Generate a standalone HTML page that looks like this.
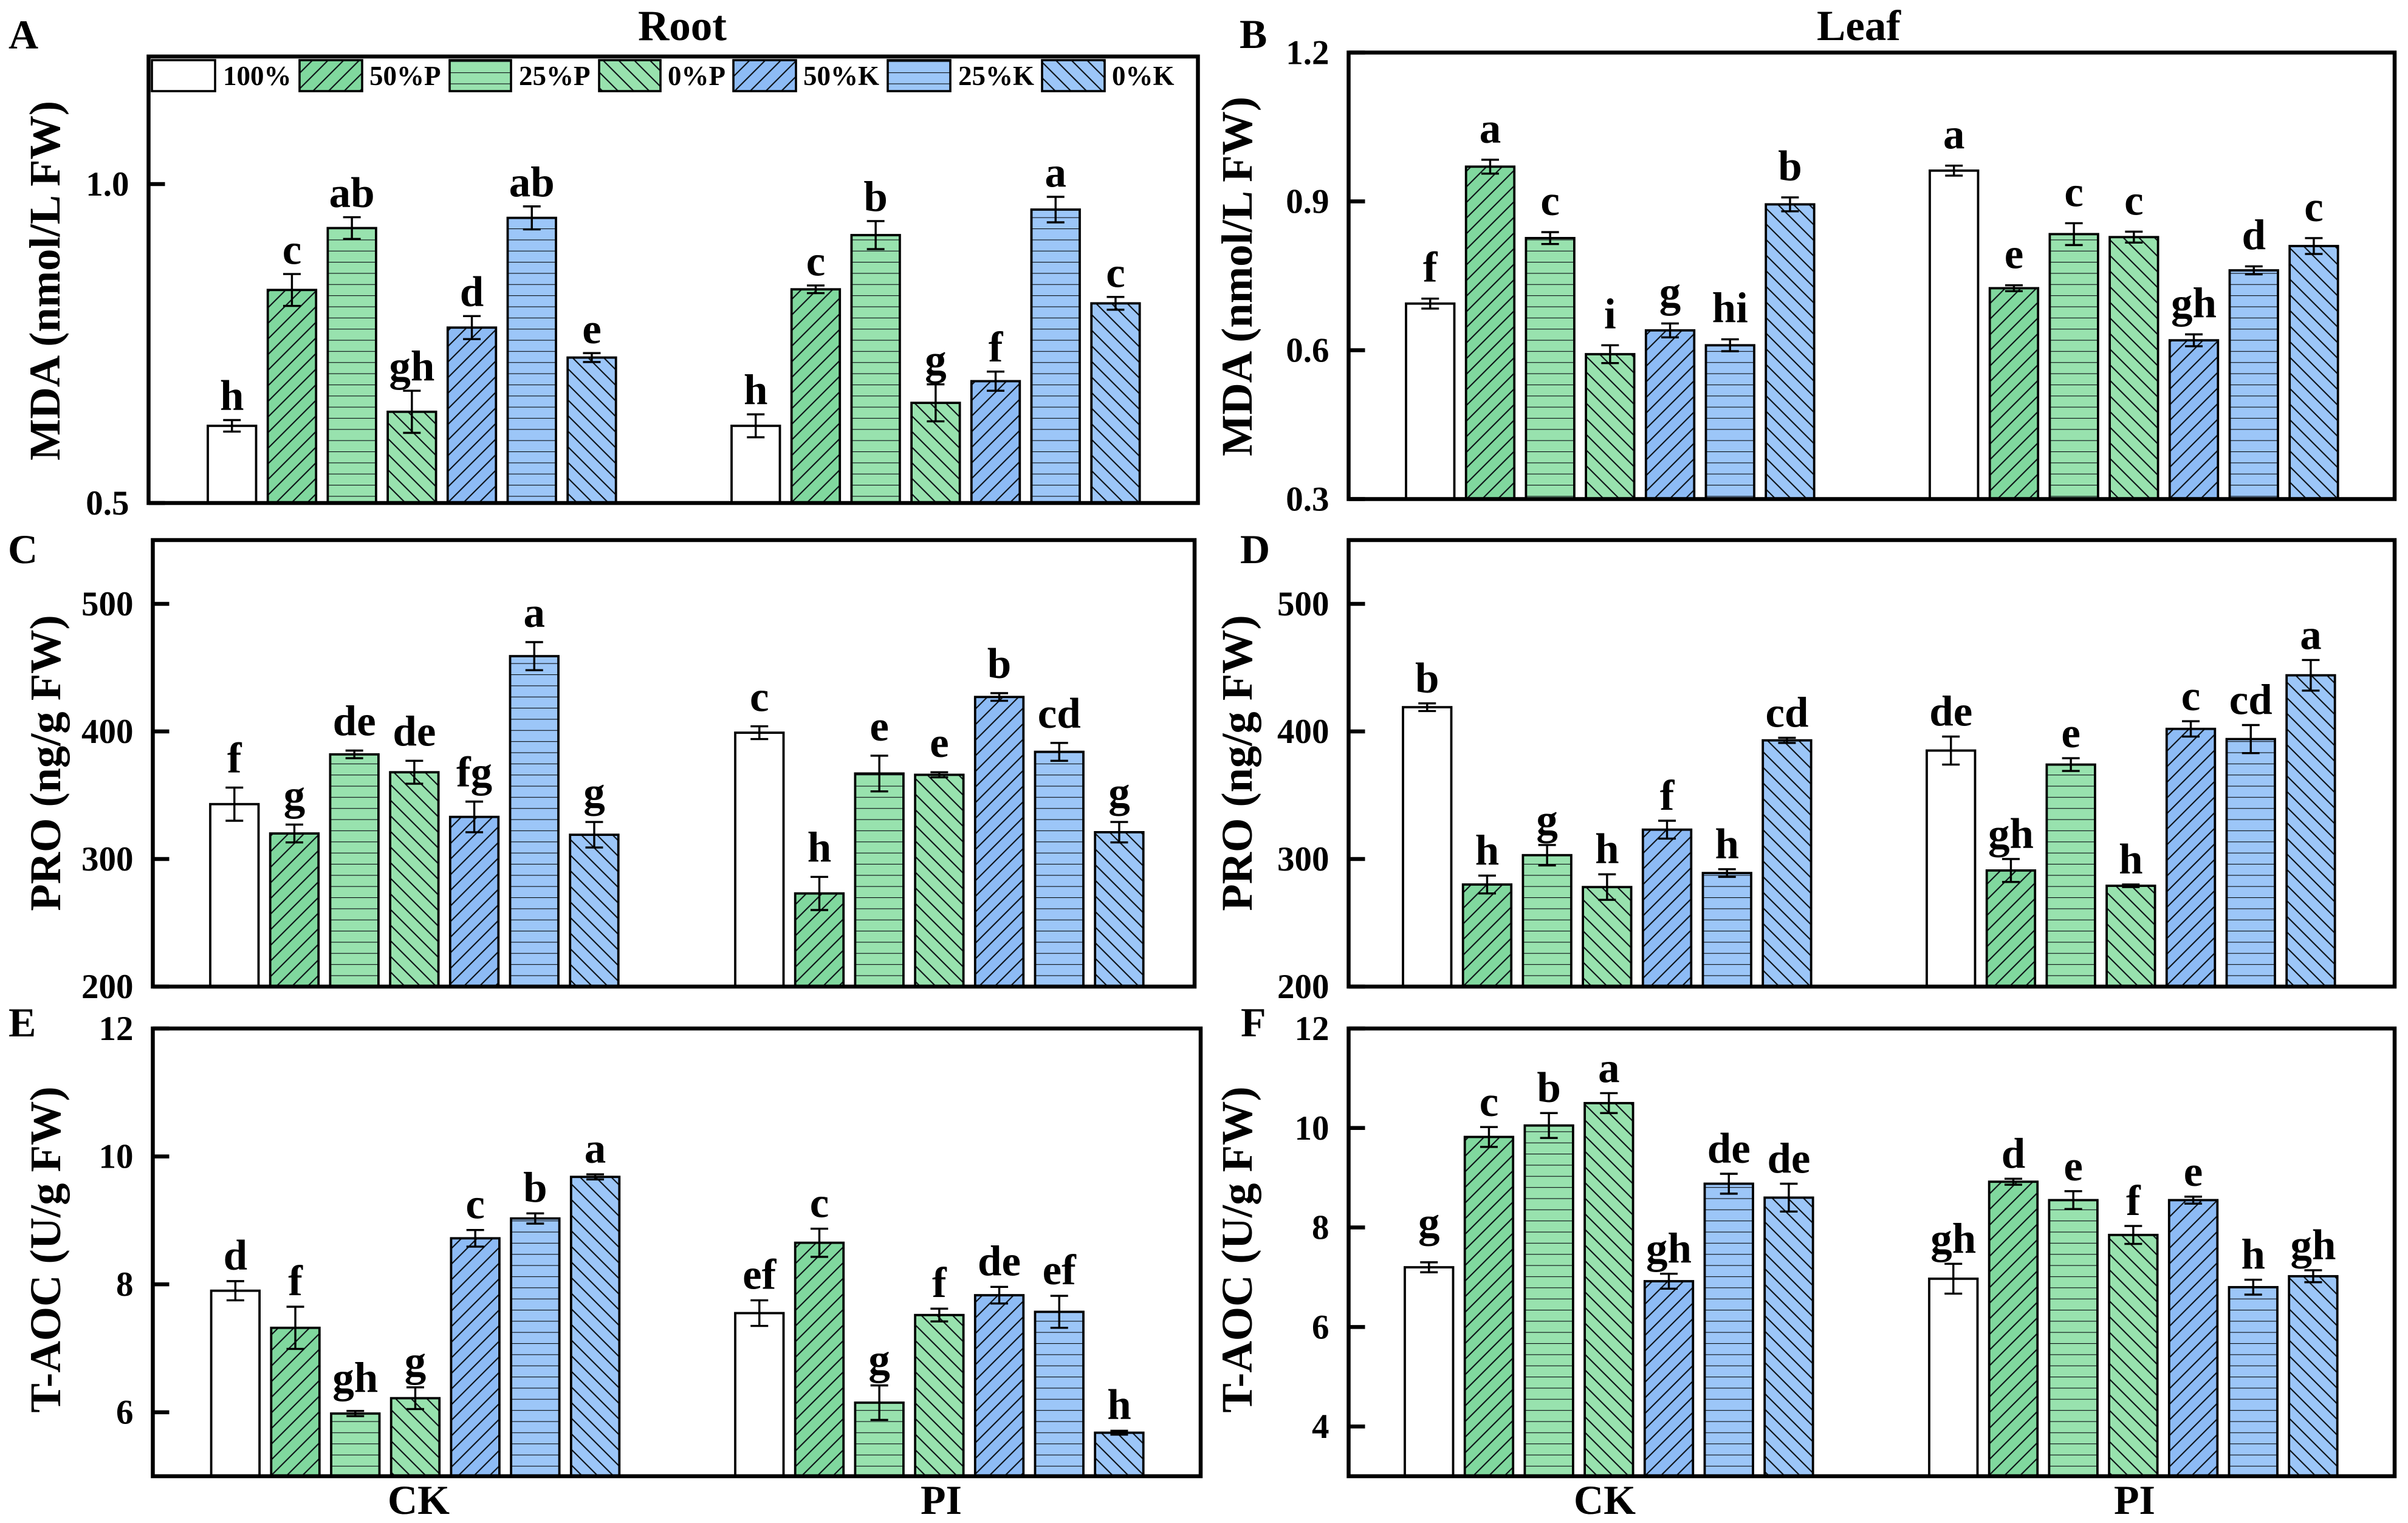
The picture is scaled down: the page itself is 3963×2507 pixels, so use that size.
<!DOCTYPE html>
<html lang="en">
<head>
<meta charset="utf-8">
<title>Root and leaf MDA, PRO and T-AOC</title>
<style>
html,body{margin:0;padding:0;background:#fff;}
svg{display:block;}
text{font-family:"Liberation Serif",serif;font-weight:bold;fill:#000;}
</style>
</head>
<body>
<svg id="chart" xmlns="http://www.w3.org/2000/svg" width="3963" height="2507" viewBox="0 0 3963 2507">
<defs>
<pattern id="h-fwd" patternUnits="userSpaceOnUse" width="25.7" height="25.7" patternTransform="translate(22.4,0)"><path d="M-2 2L2 -2M0 25.7L25.7 0M23.7 27.7L27.7 23.7" stroke="#0a0f14" stroke-width="2.1" fill="none"/></pattern>
<pattern id="h-back" patternUnits="userSpaceOnUse" width="25.7" height="25.7" patternTransform="translate(19.3,0)"><path d="M-2 23.7L2 27.7M0 0L25.7 25.7M23.7 -2L27.7 2" stroke="#0a0f14" stroke-width="2.1" fill="none"/></pattern>
<pattern id="h-horz" patternUnits="userSpaceOnUse" width="18.35" height="18.35" patternTransform="translate(0,9)"><path d="M-1 0H20" stroke="#0a0f14" stroke-width="2.3" fill="none"/></pattern>
</defs>
<rect x="0" y="0" width="3963" height="2507" fill="#fff"/>

<text x="1050" y="66" font-size="71">Root</text>
<text x="2990" y="66" font-size="71">Leaf</text>

<text x="14" y="80" font-size="68">A</text>
<text x="2040" y="79" font-size="68">B</text>
<text x="13" y="927" font-size="68">C</text>
<text x="2041" y="927" font-size="68">D</text>
<text x="14" y="1706" font-size="68">E</text>
<text x="2042" y="1706" font-size="68">F</text>

<text transform="translate(98,462) rotate(-90)" text-anchor="middle" font-size="72.5">MDA (nmol/L FW)</text>
<text transform="translate(2060,455) rotate(-90)" text-anchor="middle" font-size="72.5">MDA (nmol/L FW)</text>
<text transform="translate(99,1256) rotate(-90)" text-anchor="middle" font-size="72.5">PRO (ng/g FW)</text>
<text transform="translate(2060,1256) rotate(-90)" text-anchor="middle" font-size="72.5">PRO (ng/g FW)</text>
<text transform="translate(99,2057) rotate(-90)" text-anchor="middle" font-size="72.5">T-AOC (U/g FW)</text>
<text transform="translate(2060,2057) rotate(-90)" text-anchor="middle" font-size="72.5">T-AOC (U/g FW)</text>

<g id="panels"></g>

<g id="legend">
<g><rect x="250" y="99" width="104" height="51" fill="#fff" stroke="#000" stroke-width="3.6"/><text x="367" y="140" font-size="45">100%</text></g>
<g><rect x="493" y="99" width="103" height="51" fill="#80d89e"/><rect x="493" y="99" width="103" height="51" fill="url(#h-fwd)" stroke="#000" stroke-width="3.6"/><text x="608" y="140" font-size="45">50%P</text></g>
<g><rect x="740" y="99" width="101" height="51" fill="#98e2ae"/><rect x="740" y="99" width="101" height="51" fill="url(#h-horz)" stroke="#000" stroke-width="3.6"/><text x="854" y="140" font-size="45">25%P</text></g>
<g><rect x="986" y="99" width="101" height="51" fill="#98e2ae"/><rect x="986" y="99" width="101" height="51" fill="url(#h-back)" stroke="#000" stroke-width="3.6"/><text x="1099" y="140" font-size="45">0%P</text></g>
<g><rect x="1207" y="99" width="103" height="51" fill="#8dbbf5"/><rect x="1207" y="99" width="103" height="51" fill="url(#h-fwd)" stroke="#000" stroke-width="3.6"/><text x="1322" y="140" font-size="45">50%K</text></g>
<g><rect x="1461" y="99" width="103" height="51" fill="#9cc6f8"/><rect x="1461" y="99" width="103" height="51" fill="url(#h-horz)" stroke="#000" stroke-width="3.6"/><text x="1577" y="140" font-size="45">25%K</text></g>
<g><rect x="1715" y="99" width="103" height="51" fill="#9cc6f8"/><rect x="1715" y="99" width="103" height="51" fill="url(#h-back)" stroke="#000" stroke-width="3.6"/><text x="1830" y="140" font-size="45">0%K</text></g>
</g>
</svg>

<script>
// Categories
const groups = ['CK', 'PI'];
const treatments = ['100', '50p', '25p', '0p', '50k', '25k', '0k'];

// Panel A: root MDA
const rootMdaCK = [0.621, 0.834, 0.931, 0.643, 0.775, 0.947, 0.728];
const rootMdaPI = [0.621, 0.835, 0.92, 0.657, 0.691, 0.96, 0.813];
const rootMdaErrCK = [0.009, 0.025, 0.017, 0.033, 0.018, 0.018, 0.007];
const rootMdaErrPI = [0.018, 0.006, 0.022, 0.029, 0.015, 0.02, 0.01];
const rootMdaLetCK = ['h', 'c', 'ab', 'gh', 'd', 'ab', 'e'];
const rootMdaLetPI = ['h', 'c', 'b', 'g', 'f', 'a', 'c'];
const rootMdaTicks = [0.5, 1.0];
const rootMdaTickLabels = ['0.5', '1.0'];

// Panel B: leaf MDA
const leafMdaCK = [0.694, 0.97, 0.826, 0.592, 0.64, 0.61, 0.894];
const leafMdaPI = [0.962, 0.725, 0.834, 0.828, 0.62, 0.761, 0.81];
const leafMdaErrCK = [0.01, 0.014, 0.012, 0.018, 0.014, 0.012, 0.014];
const leafMdaErrPI = [0.01, 0.006, 0.022, 0.011, 0.012, 0.008, 0.016];
const leafMdaLetCK = ['f', 'a', 'c', 'i', 'g', 'hi', 'b'];
const leafMdaLetPI = ['a', 'e', 'c', 'c', 'gh', 'd', 'c'];
const leafMdaTicks = [0.3, 0.6, 0.9, 1.2];
const leafMdaTickLabels = ['0.3', '0.6', '0.9', '1.2'];

// Panel C: root PRO
const rootProCK = [343, 320, 382, 368, 333, 459, 319];
const rootProPI = [399, 273, 367, 366, 427, 384, 321];
const rootProErrCK = [13, 7, 3, 9, 12, 11, 10];
const rootProErrPI = [5, 13, 14, 2, 3, 7, 8];
const rootProLetCK = ['f', 'g', 'de', 'de', 'fg', 'a', 'g'];
const rootProLetPI = ['c', 'h', 'e', 'e', 'b', 'cd', 'g'];
const rootProTicks = [200, 300, 400, 500];
const rootProTickLabels = ['200', '300', '400', '500'];

// Panel D: leaf PRO
const leafProCK = [419, 280, 303, 278, 323, 289, 393];
const leafProPI = [385, 291, 374, 279, 402, 394, 444];
const leafProErrCK = [3, 7, 8, 10, 7, 3, 2];
const leafProErrPI = [11, 9, 5, 1, 6, 11, 12];
const leafProLetCK = ['b', 'h', 'g', 'h', 'f', 'h', 'cd'];
const leafProLetPI = ['de', 'gh', 'e', 'h', 'c', 'cd', 'a'];
const leafProTicks = [200, 300, 400, 500];
const leafProTickLabels = ['200', '300', '400', '500'];

// Panel E: root T-AOC
const rootAocCK = [7.9, 7.32, 5.98, 6.22, 8.72, 9.03, 9.68];
const rootAocPI = [7.55, 8.65, 6.15, 7.52, 7.83, 7.57, 5.68];
const rootAocErrCK = [0.15, 0.33, 0.04, 0.17, 0.13, 0.08, 0.04];
const rootAocErrPI = [0.2, 0.22, 0.27, 0.1, 0.13, 0.25, 0.03];
const rootAocLetCK = ['d', 'f', 'gh', 'g', 'c', 'b', 'a'];
const rootAocLetPI = ['ef', 'c', 'g', 'f', 'de', 'ef', 'h'];
const rootAocTicks = [6, 8, 10, 12];
const rootAocTickLabels = ['6', '8', '10', '12'];

// Panel F: leaf T-AOC
const leafAocCK = [7.2, 9.82, 10.05, 10.5, 6.92, 8.88, 8.6];
const leafAocPI = [6.97, 8.92, 8.55, 7.85, 8.55, 6.8, 7.02];
const leafAocErrCK = [0.1, 0.2, 0.25, 0.2, 0.15, 0.2, 0.28];
const leafAocErrPI = [0.3, 0.06, 0.18, 0.18, 0.07, 0.15, 0.12];
const leafAocLetCK = ['g', 'c', 'b', 'a', 'gh', 'de', 'de'];
const leafAocLetPI = ['gh', 'd', 'e', 'f', 'e', 'h', 'gh'];
const leafAocTicks = [4, 6, 8, 10, 12];
const leafAocTickLabels = ['4', '6', '8', '10', '12'];

// Frame geometry and axis domains
const BAR_W = 79.5, PITCH = 98.7;
const panelDefs = [
  {id:'a', l:244.5, r:1971.5, t:93,   b:828,  min:0.5, max:1.2, x0:342,  x1:1204, gap:16.5, vals:[rootMdaCK, rootMdaPI], errs:[rootMdaErrCK, rootMdaErrPI], lets:[rootMdaLetCK, rootMdaLetPI], ticks:rootMdaTicks, tickLabels:rootMdaTickLabels, xlab:null},
  {id:'b', l:2219.5,r:3941,   t:86.5, b:821.5,min:0.3, max:1.2, x0:2314, x1:3176, gap:28,   vals:[leafMdaCK, leafMdaPI], errs:[leafMdaErrCK, leafMdaErrPI], lets:[leafMdaLetCK, leafMdaLetPI], ticks:leafMdaTicks, tickLabels:leafMdaTickLabels, xlab:null},
  {id:'c', l:251.5, r:1966,   t:889,  b:1624, min:200, max:550, x0:346,  x1:1210, gap:25,   vals:[rootProCK, rootProPI], errs:[rootProErrCK, rootProErrPI], lets:[rootProLetCK, rootProLetPI], ticks:rootProTicks, tickLabels:rootProTickLabels, xlab:null},
  {id:'d', l:2219.5,r:3941,   t:889,  b:1624, min:200, max:550, x0:2309, x1:3171, gap:18,   vals:[leafProCK, leafProPI], errs:[leafProErrCK, leafProErrPI], lets:[leafProLetCK, leafProLetPI], ticks:leafProTicks, tickLabels:leafProTickLabels, xlab:null},
  {id:'e', l:251.5, r:1976,   t:1693, b:2430, min:5,   max:12,  x0:347.6,x1:1210, gap:19,   vals:[rootAocCK, rootAocPI], errs:[rootAocErrCK, rootAocErrPI], lets:[rootAocLetCK, rootAocLetPI], ticks:rootAocTicks, tickLabels:rootAocTickLabels, xlab:[689, 1549]},
  {id:'f', l:2219.5,r:3941,   t:1693, b:2430, min:3,   max:12,  x0:2312, x1:3175, gap:18,   vals:[leafAocCK, leafAocPI], errs:[leafAocErrCK, leafAocErrPI], lets:[leafAocLetCK, leafAocLetPI], ticks:leafAocTicks, tickLabels:leafAocTickLabels, xlab:[2641, 3513]}
];
// Extra lift for individual letters that sit higher above their error bars
const labelLift = {'e-CK-25p': 12, 'f-CK-100': 24};
const styles = [
  {fill:'#ffffff', hatch:null},
  {fill:'#80d89e', hatch:'h-fwd'},
  {fill:'#98e2ae', hatch:'h-horz'},
  {fill:'#98e2ae', hatch:'h-back'},
  {fill:'#8dbbf5', hatch:'h-fwd'},
  {fill:'#9cc6f8', hatch:'h-horz'},
  {fill:'#9cc6f8', hatch:'h-back'}
];

const NS = 'http://www.w3.org/2000/svg';
function mk(tag, parent, attrs) {
  const el = document.createElementNS(NS, tag);
  for (const k in attrs) el.setAttribute(k, attrs[k]);
  parent.appendChild(el);
  return el;
}
function xScale(p, g, i) { return (g === 0 ? p.x0 : p.x1) + i * PITCH; }
function yScale(p, v) { return p.b - (v - p.min) / (p.max - p.min) * (p.b - p.t); }

const root = document.getElementById('panels');
panelDefs.forEach(function (p) {
  const g = mk('g', root, {});
  
  

  groups.forEach(function (grp, gi) {
    treatments.forEach(function (tr, i) {
      const v = p.vals[gi][i], e = p.errs[gi][i];
      const x = xScale(p, gi, i), y = yScale(p, v), h = p.b - y;
      const st = styles[i];
      const cx = x + BAR_W / 2;

      const bar = mk('rect', g, {x: x, y: y, width: BAR_W, height: h, fill: st.fill});
      
      

      if (st.hatch) {
        const hatch = mk('rect', g, {x: x, y: y, width: BAR_W, height: h, fill: 'url(#' + st.hatch + ')'});
        
        
      }
      const outline = mk('rect', g, {x: x, y: y, width: BAR_W, height: h, fill: 'none', stroke: '#000', 'stroke-width': 3.8});
      
      

      const yHi = yScale(p, v + e), yLo = yScale(p, v - e);
      const eb = mk('path', g, {d: 'M' + (cx - 14.5) + ' ' + yHi + 'H' + (cx + 14.5) + 'M' + cx + ' ' + yHi + 'V' + yLo + 'M' + (cx - 14.5) + ' ' + yLo + 'H' + (cx + 14.5), stroke: '#000', 'stroke-width': 3.4, fill: 'none'});
      
      

      const lift = labelLift[p.id + '-' + grp + '-' + tr] || 0;
      const lab = mk('text', g, {x: cx, y: yHi - p.gap - lift, 'text-anchor': 'middle', 'font-size': 71});
      lab.textContent = p.lets[gi][i];
      
      
    });

    if (p.xlab) {
      const cat = mk('text', g, {x: p.xlab[gi], y: 2492, 'text-anchor': 'middle', 'font-size': 68});
      cat.textContent = grp;
      
      
    }
  });

  p.ticks.forEach(function (t, i) {
    const y = yScale(p, t);
    const tick = mk('line', g, {x1: p.l, x2: p.l + 27, y1: y, y2: y, stroke: '#000', 'stroke-width': 6.5});
    
    
    const tl = mk('text', g, {x: p.l - 32, y: y + 19, 'text-anchor': 'end', 'font-size': 57});
    tl.textContent = p.tickLabels[i];
    
    
  });

  const frame = mk('rect', g, {x: p.l, y: p.t, width: p.r - p.l, height: p.b - p.t, fill: 'none', stroke: '#000', 'stroke-width': 6.5});
  
  
});
</script>
</body>
</html>
